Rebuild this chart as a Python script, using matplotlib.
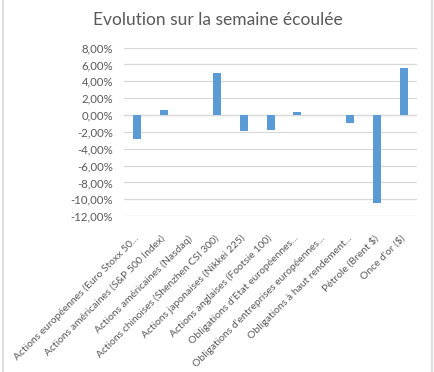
import matplotlib.pyplot as plt
import numpy as np
from matplotlib.lines import Line2D
from matplotlib.ticker import FuncFormatter

plt.rcParams['font.family'] = ['Lato', 'DejaVu Sans']

categories = [
    'Actions européennes (Euro Stoxx 50...',
    'Actions américaines (S&P 500 Index)',
    'Actions américaines (Nasdaq)',
    'Actions chinoises (Shenzhen CSI 300)',
    'Actions japonaises (Nikkei 225)',
    'Actions anglaises (Footsie 100)',
    "Obligations d'Etat européennes...",
    "Obligations d'entreprises européennes...",
    'Obligations à haut rendement...',
    'Pétrole (Brent $)',
    "Once d'or ($)",
]
values = [-2.9, 0.6, 0.0, 5.0, -1.9, -1.8, 0.4, 0.0, -1.0, -10.4, 5.55]
yticks = [8, 6, 4, 2, 0, -2, -4, -6, -8, -10, -12]

grey = '#595959'
fig = plt.figure(figsize=(4.34, 3.72), dpi=100)
ax = fig.add_axes([0.286, 0.419, 0.675, 0.453])

x = np.arange(len(categories))
ax.bar(x, values, width=0.3, color='#5B9BD5', zorder=3)

ax.set_xlim(-0.5, len(categories) - 0.5)
ax.set_ylim(-12, 8)
ax.set_yticks(yticks)
ax.yaxis.set_major_formatter(FuncFormatter(lambda v, p: '{:.2f}%'.format(v).replace('.', ',')))
ax.grid(axis='y', color='#D9D9D9', linewidth=0.9, zorder=0)
ax.axhline(0, color='#D9D9D9', linewidth=0.9, zorder=1)

ax.set_xticks(x)
ax.set_xticklabels(categories, rotation=45, ha='right', va='center',
                   rotation_mode='anchor', fontsize=7.5, color=grey)
ax.tick_params(axis='x', length=0, pad=15)
ax.tick_params(axis='y', length=0, pad=8, labelsize=8.2, labelcolor=grey)
for s in ax.spines.values():
    s.set_visible(False)

fig.text(0.502, 0.945, 'Evolution sur la semaine écoulée', ha='center', va='center',
         fontsize=12.5, color=grey)

# light frame of the chart area
fig.add_artist(Line2D([0.008, 0.008], [0, 1], color='#D9D9D9', linewidth=1.2))
fig.add_artist(Line2D([0.995, 0.995], [0, 1], color='#D9D9D9', linewidth=1.2))

fig.savefig('out.png', dpi=100)
